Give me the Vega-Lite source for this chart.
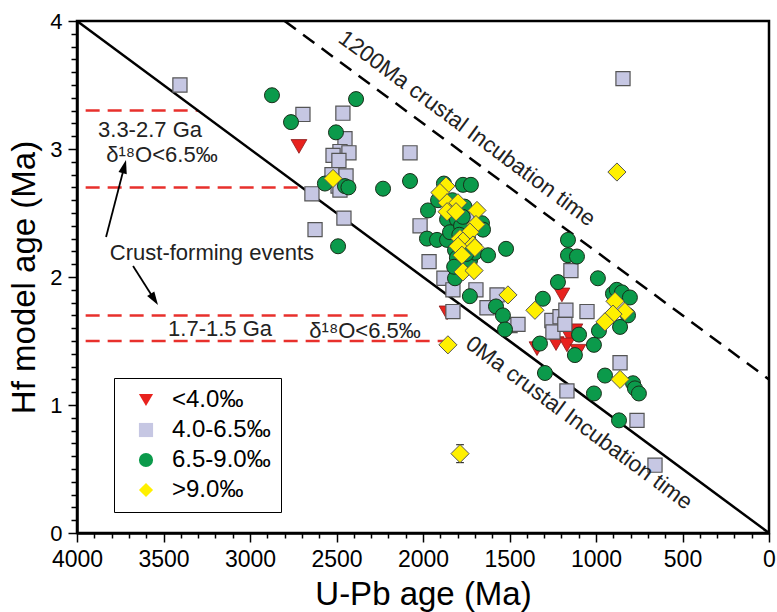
{
"$schema": "https://vega.github.io/schema/vega-lite/v6.json",
"width": 692, "height": 512,
"autosize": {"type": "none"},
"padding": {"left": 77, "top": 21, "right": 8, "bottom": 79},
"background": "white",
"config": {
 "font": "Liberation Sans",
 "view": {"stroke": "black", "strokeWidth": 2.5},
 "legend": {"symbolSize": 200},
 "axis": {"grid": false, "domainColor": "black", "domainWidth": 2.5, "tickColor": "black", "tickWidth": 1.5, "labelColor": "black", "titleColor": "black", "titleFontWeight": "normal", "labelFont": "Liberation Sans", "titleFont": "Liberation Sans", "labelOverlap": false, "labelFlush": false}
},
"datasets": {
 "pts": [
  {"x":2717,"y":3.02,"g":"<4.0‰"},{"x":1861,"y":1.72,"g":"<4.0‰"},{"x":1197,"y":1.86,"g":"<4.0‰"},{"x":1122,"y":1.58,"g":"<4.0‰"},{"x":1150,"y":1.53,"g":"<4.0‰"},{"x":1231,"y":1.48,"g":"<4.0‰"},{"x":1168,"y":1.47,"g":"<4.0‰"},{"x":1104,"y":1.42,"g":"<4.0‰"},{"x":1341,"y":1.44,"g":"<4.0‰"},
  {"x":3405,"y":3.50,"g":"4.0-6.5‰"},{"x":2694,"y":3.27,"g":"4.0-6.5‰"},{"x":2463,"y":3.28,"g":"4.0-6.5‰"},{"x":2451,"y":3.08,"g":"4.0-6.5‰"},{"x":2480,"y":2.98,"g":"4.0-6.5‰"},{"x":2520,"y":2.95,"g":"4.0-6.5‰"},{"x":2428,"y":2.97,"g":"4.0-6.5‰"},{"x":2486,"y":2.91,"g":"4.0-6.5‰"},{"x":2526,"y":2.80,"g":"4.0-6.5‰"},{"x":2445,"y":2.79,"g":"4.0-6.5‰"},{"x":2491,"y":2.71,"g":"4.0-6.5‰"},{"x":2480,"y":2.68,"g":"4.0-6.5‰"},{"x":2642,"y":2.65,"g":"4.0-6.5‰"},{"x":2457,"y":2.46,"g":"4.0-6.5‰"},{"x":2624,"y":2.37,"g":"4.0-6.5‰"},{"x":2075,"y":2.97,"g":"4.0-6.5‰"},{"x":844,"y":3.55,"g":"4.0-6.5‰"},{"x":2017,"y":2.40,"g":"4.0-6.5‰"},{"x":1965,"y":2.12,"g":"4.0-6.5‰"},{"x":1879,"y":1.99,"g":"4.0-6.5‰"},{"x":1827,"y":1.90,"g":"4.0-6.5‰"},{"x":1694,"y":1.90,"g":"4.0-6.5‰"},{"x":1746,"y":2.48,"g":"4.0-6.5‰"},{"x":1572,"y":1.86,"g":"4.0-6.5‰"},{"x":1630,"y":1.76,"g":"4.0-6.5‰"},{"x":1827,"y":1.73,"g":"4.0-6.5‰"},{"x":1497,"y":1.62,"g":"4.0-6.5‰"},{"x":1451,"y":1.63,"g":"4.0-6.5‰"},{"x":1255,"y":1.66,"g":"4.0-6.5‰"},{"x":1208,"y":1.69,"g":"4.0-6.5‰"},{"x":1174,"y":1.74,"g":"4.0-6.5‰"},{"x":1249,"y":1.57,"g":"4.0-6.5‰"},{"x":1180,"y":1.63,"g":"4.0-6.5‰"},{"x":1052,"y":1.73,"g":"4.0-6.5‰"},{"x":1145,"y":2.05,"g":"4.0-6.5‰"},{"x":861,"y":1.33,"g":"4.0-6.5‰"},{"x":1168,"y":1.11,"g":"4.0-6.5‰"},{"x":763,"y":0.88,"g":"4.0-6.5‰"},{"x":659,"y":0.53,"g":"4.0-6.5‰"},
  {"x":2873,"y":3.42,"g":"6.5-9.0‰"},{"x":2763,"y":3.21,"g":"6.5-9.0‰"},{"x":2387,"y":3.39,"g":"6.5-9.0‰"},{"x":2503,"y":3.13,"g":"6.5-9.0‰"},{"x":2567,"y":2.73,"g":"6.5-9.0‰"},{"x":2451,"y":2.71,"g":"6.5-9.0‰"},{"x":2431,"y":2.70,"g":"6.5-9.0‰"},{"x":2231,"y":2.69,"g":"6.5-9.0‰"},{"x":2491,"y":2.24,"g":"6.5-9.0‰"},{"x":2075,"y":2.75,"g":"6.5-9.0‰"},{"x":1879,"y":2.73,"g":"6.5-9.0‰"},{"x":1769,"y":2.72,"g":"6.5-9.0‰"},{"x":1723,"y":2.72,"g":"6.5-9.0‰"},{"x":1971,"y":2.52,"g":"6.5-9.0‰"},{"x":1913,"y":2.60,"g":"6.5-9.0‰"},{"x":1861,"y":2.45,"g":"6.5-9.0‰"},{"x":1804,"y":2.45,"g":"6.5-9.0‰"},{"x":1659,"y":2.42,"g":"6.5-9.0‰"},{"x":1653,"y":2.37,"g":"6.5-9.0‰"},{"x":1977,"y":2.30,"g":"6.5-9.0‰"},{"x":1919,"y":2.29,"g":"6.5-9.0‰"},{"x":1861,"y":2.29,"g":"6.5-9.0‰"},{"x":1844,"y":2.35,"g":"6.5-9.0‰"},{"x":1815,"y":2.21,"g":"6.5-9.0‰"},{"x":1804,"y":2.15,"g":"6.5-9.0‰"},{"x":1786,"y":2.09,"g":"6.5-9.0‰"},{"x":1728,"y":2.13,"g":"6.5-9.0‰"},{"x":1700,"y":2.19,"g":"6.5-9.0‰"},{"x":1740,"y":2.24,"g":"6.5-9.0‰"},{"x":1624,"y":2.17,"g":"6.5-9.0‰"},{"x":1520,"y":2.22,"g":"6.5-9.0‰"},{"x":1798,"y":2.04,"g":"6.5-9.0‰"},{"x":1815,"y":1.99,"g":"6.5-9.0‰"},{"x":1729,"y":1.85,"g":"6.5-9.0‰"},{"x":1578,"y":1.77,"g":"6.5-9.0‰"},{"x":1538,"y":1.70,"g":"6.5-9.0‰"},{"x":1526,"y":1.59,"g":"6.5-9.0‰"},{"x":1780,"y":2.40,"g":"6.5-9.0‰"},{"x":1760,"y":2.55,"g":"6.5-9.0‰"},{"x":1830,"y":2.60,"g":"6.5-9.0‰"},{"x":1790,"y":2.33,"g":"6.5-9.0‰"},{"x":1750,"y":2.18,"g":"6.5-9.0‰"},{"x":1820,"y":2.08,"g":"6.5-9.0‰"},{"x":1770,"y":2.47,"g":"6.5-9.0‰"},{"x":1740,"y":2.30,"g":"6.5-9.0‰"},{"x":1162,"y":2.29,"g":"6.5-9.0‰"},{"x":1162,"y":2.17,"g":"6.5-9.0‰"},{"x":1110,"y":2.16,"g":"6.5-9.0‰"},{"x":1220,"y":1.96,"g":"6.5-9.0‰"},{"x":989,"y":1.99,"g":"6.5-9.0‰"},{"x":1307,"y":1.83,"g":"6.5-9.0‰"},{"x":902,"y":1.87,"g":"6.5-9.0‰"},{"x":880,"y":1.90,"g":"6.5-9.0‰"},{"x":850,"y":1.88,"g":"6.5-9.0‰"},{"x":804,"y":1.84,"g":"6.5-9.0‰"},{"x":815,"y":1.70,"g":"6.5-9.0‰"},{"x":861,"y":1.61,"g":"6.5-9.0‰"},{"x":983,"y":1.58,"g":"6.5-9.0‰"},{"x":1012,"y":1.47,"g":"6.5-9.0‰"},{"x":1098,"y":1.55,"g":"6.5-9.0‰"},{"x":1324,"y":1.48,"g":"6.5-9.0‰"},{"x":1122,"y":1.39,"g":"6.5-9.0‰"},{"x":1295,"y":1.25,"g":"6.5-9.0‰"},{"x":948,"y":1.23,"g":"6.5-9.0‰"},{"x":1012,"y":1.09,"g":"6.5-9.0‰"},{"x":786,"y":1.17,"g":"6.5-9.0‰"},{"x":775,"y":1.13,"g":"6.5-9.0‰"},{"x":752,"y":1.09,"g":"6.5-9.0‰"},{"x":867,"y":0.88,"g":"6.5-9.0‰"},
  {"x":2520,"y":2.77,"g":">9.0‰"},{"x":879,"y":2.82,"g":">9.0‰"},{"x":1786,"y":0.62,"g":">9.0‰"},{"x":1856,"y":1.47,"g":">9.0‰"},{"x":1353,"y":1.74,"g":">9.0‰"},{"x":861,"y":1.20,"g":">9.0‰"},{"x":890,"y":1.81,"g":">9.0‰"},{"x":833,"y":1.73,"g":">9.0‰"},{"x":902,"y":1.71,"g":">9.0‰"},{"x":948,"y":1.65,"g":">9.0‰"},{"x":1509,"y":1.86,"g":">9.0‰"},{"x":1867,"y":2.71,"g":">9.0‰"},{"x":1902,"y":2.66,"g":">9.0‰"},{"x":1861,"y":2.58,"g":">9.0‰"},{"x":1798,"y":2.58,"g":">9.0‰"},{"x":1861,"y":2.51,"g":">9.0‰"},{"x":1809,"y":2.51,"g":">9.0‰"},{"x":1688,"y":2.52,"g":">9.0‰"},{"x":1694,"y":2.41,"g":">9.0‰"},{"x":1728,"y":2.35,"g":">9.0‰"},{"x":1786,"y":2.30,"g":">9.0‰"},{"x":1769,"y":2.28,"g":">9.0‰"},{"x":1711,"y":2.25,"g":">9.0‰"},{"x":1798,"y":2.24,"g":">9.0‰"},{"x":1775,"y":2.17,"g":">9.0‰"},{"x":1700,"y":2.23,"g":">9.0‰"},{"x":1769,"y":2.04,"g":">9.0‰"},{"x":1705,"y":2.05,"g":">9.0‰"}
 ],
 "redlines": [{"x":3950,"x2":3300,"y":3.3},{"x":3950,"x2":2700,"y":2.7},{"x":3950,"x2":2080,"y":1.7},{"x":3950,"x2":1880,"y":1.5}],
 "zero": [{"x":4000,"y":4,"x2":0,"y2":0}],
 "incub": [{"x":2800,"y":4,"x2":0,"y2":1.2}],
 "err": [{"x":1786,"lo":0.55,"hi":0.69}],
 "labels": [{"x":3578,"y":3.15,"label":"3.3-2.7 Ga"},{"x":3509,"y":2.95,"label":"δ¹⁸O<6.5‰"},{"x":3220,"y":2.19,"label":"Crust-forming events"},{"x":3173,"y":1.59,"label":"1.7-1.5 Ga"},{"x":2335,"y":1.58,"label":"δ¹⁸O<6.5‰"}],
 "rot": [{"x":1746,"y":3.16,"label":"1200Ma crustal Incubation time"},{"x":1098,"y":0.86,"label":"0Ma crustal Incubation time"}],
 "arrows": [{"x":3832,"y":2.3125,"x2":3727,"y2":2.86},{"x":3676,"y":2.086,"x2":3554,"y2":1.827}],
 "head1": [{"x":3727,"y":2.86}],
 "head2": [{"x":3554,"y":1.827}]
},
"encoding": {
 "x": {"field": "x", "type": "quantitative",
  "scale": {"domain": [0, 4000], "reverse": true, "nice": false, "zero": false},
  "axis": {"title": "U-Pb age (Ma)", "format": "d",
   "values": [0,100,200,300,400,500,600,700,800,900,1000,1100,1200,1300,1400,1500,1600,1700,1800,1900,2000,2100,2200,2300,2400,2500,2600,2700,2800,2900,3000,3100,3200,3300,3400,3500,3600,3700,3800,3900,4000],
   "labelExpr": "datum.value % 500 === 0 ? datum.label : ''",
   "tickSize": {"condition": {"test": "datum.value % 500 === 0", "value": 9}, "value": 5},
   "labelFontSize": 23, "titleFontSize": 33, "labelPadding": 6, "titlePadding": 7}},
 "y": {"field": "y", "type": "quantitative",
  "scale": {"domain": [0, 4], "nice": false},
  "axis": {"title": "Hf model age (Ma)",
   "values": [0,0.1,0.2,0.3,0.4,0.5,0.6,0.7,0.8,0.9,1,1.1,1.2,1.3,1.4,1.5,1.6,1.7,1.8,1.9,2,2.1,2.2,2.3,2.4,2.5,2.6,2.7,2.8,2.9,3,3.1,3.2,3.3,3.4,3.5,3.6,3.7,3.8,3.9,4],
   "labelExpr": "abs(datum.value - round(datum.value)) < 0.01 ? format(datum.value, 'd') : ''",
   "tickSize": {"condition": {"test": "abs(datum.value - round(datum.value)) < 0.01", "value": 9}, "value": 6},
   "labelFontSize": 22, "titleFontSize": 33, "labelPadding": 6, "titlePadding": 8}}
},
"layer": [
 {"data": {"name": "redlines"}, "mark": {"type": "rule", "color": "#e8302c", "strokeWidth": 2.5, "strokeDash": [14, 8]}, "encoding": {"x2": {"field": "x2"}}},
 {"data": {"name": "zero"}, "mark": {"type": "rule", "color": "black", "strokeWidth": 2.5}, "encoding": {"x2": {"field": "x2"}, "y2": {"field": "y2"}}},
 {"data": {"name": "incub"}, "mark": {"type": "rule", "color": "black", "strokeWidth": 2.5, "strokeDash": [14, 9]}, "encoding": {"x2": {"field": "x2"}, "y2": {"field": "y2"}}},
 {"data": {"name": "arrows"}, "mark": {"type": "rule", "color": "black", "strokeWidth": 1.8}, "encoding": {"x2": {"field": "x2"}, "y2": {"field": "y2"}}},
 {"data": {"name": "head1"}, "mark": {"type": "point", "shape": "M0,-1L0.6,0.9L-0.6,0.9Z", "filled": true, "color": "black", "size": 200, "angle": 14.6, "opacity": 1}, "encoding": {}},
 {"data": {"name": "head2"}, "mark": {"type": "point", "shape": "M0,-1L0.6,0.9L-0.6,0.9Z", "filled": true, "color": "black", "size": 200, "angle": 147.3, "opacity": 1}, "encoding": {}},
 {"data": {"name": "err"}, "mark": {"type": "rule", "color": "#333", "strokeWidth": 1.2}, "encoding": {"y": {"field": "lo", "type": "quantitative"}, "y2": {"field": "hi"}}},
 {"data": {"name": "err"}, "mark": {"type": "point", "shape": "stroke", "color": "#333", "strokeWidth": 1.2, "size": 60, "opacity": 1}, "encoding": {"y": {"field": "lo", "type": "quantitative"}}},
 {"data": {"name": "err"}, "mark": {"type": "point", "shape": "stroke", "color": "#333", "strokeWidth": 1.2, "size": 60, "opacity": 1}, "encoding": {"y": {"field": "hi", "type": "quantitative"}}},
 {"data": {"name": "pts"},
  "encoding": {
   "shape": {"field": "g", "type": "nominal", "scale": {"domain": ["<4.0‰", "4.0-6.5‰", "6.5-9.0‰", ">9.0‰"], "range": ["triangle-down", "square", "circle", "diamond"]},
     "legend": {"title": null, "orient": "none", "legendX": 37, "legendY": 357, "padding": 10, "symbolOffset": 10, "labelOffset": 14, "rowPadding": 6, "labelFontSize": 24, "labelFont": "Liberation Sans", "labelColor": "black", "symbolSize": 200, "symbolStrokeColor": "#444", "symbolStrokeWidth": 1, "strokeColor": "black",
       "encode": {
        "legend": {"update": {"stroke": {"value": "black"}, "strokeWidth": {"value": 2.5}, "fill": {"value": "white"}}},
        "symbols": {"update": {"size": {"value": 200}, "stroke": {"value": "#444"}, "strokeWidth": {"value": 1},
          "fill": [{"test": "datum.value === '<4.0‰'", "value": "#e8221e"}, {"test": "datum.value === '4.0-6.5‰'", "value": "#c6c7e3"}, {"test": "datum.value === '6.5-9.0‰'", "value": "#8fca7d"}, {"value": "#fff000"}]}}
       }}},
   "fill": {"field": "g", "type": "nominal", "scale": {"domain": ["<4.0‰", "4.0-6.5‰", "6.5-9.0‰", ">9.0‰"], "range": ["#e8221e", "#c6c7e3", "#0b9a4b", "#fff000"]},
     "legend": {"title": null, "orient": "none", "legendX": 37, "legendY": 357, "padding": 10, "symbolOffset": 10, "labelOffset": 14, "rowPadding": 6, "labelFontSize": 24, "labelFont": "Liberation Sans", "labelColor": "black", "symbolSize": 200, "symbolStrokeColor": "#444", "symbolStrokeWidth": 1, "strokeColor": "black",
       "encode": {
        "legend": {"update": {"stroke": {"value": "black"}, "strokeWidth": {"value": 2.5}, "fill": {"value": "white"}}},
        "symbols": {"update": {"size": {"value": 200}, "stroke": {"value": "#444"}, "strokeWidth": {"value": 1},
          "fill": [{"test": "datum.value === '<4.0‰'", "value": "#e8221e"}, {"test": "datum.value === '4.0-6.5‰'", "value": "#c6c7e3"}, {"test": "datum.value === '6.5-9.0‰'", "value": "#8fca7d"}, {"value": "#fff000"}]}}
       }}}
  },
  "layer": [
   {"transform": [{"filter": "datum.g === '<4.0‰'"}], "mark": {"type": "point", "filled": true, "opacity": 1, "stroke": "#8a1a1a", "strokeWidth": 0.8, "size": 250}},
   {"transform": [{"filter": "datum.g === '4.0-6.5‰'"}], "mark": {"type": "point", "filled": true, "opacity": 1, "stroke": "#555", "strokeWidth": 1.2, "size": 200}},
   {"transform": [{"filter": "datum.g === '6.5-9.0‰'"}], "mark": {"type": "point", "filled": true, "opacity": 1, "stroke": "#1a2e1a", "strokeWidth": 1, "size": 225}},
   {"transform": [{"filter": "datum.g === '>9.0‰'"}], "mark": {"type": "point", "filled": true, "opacity": 1, "stroke": "#555", "strokeWidth": 1, "size": 330}}
  ]},
 {"data": {"name": "labels"}, "mark": {"type": "text", "fontSize": 22, "font": "Liberation Sans", "color": "#222", "align": "center", "baseline": "middle"}, "encoding": {"text": {"field": "label"}}},
 {"data": {"name": "rot"}, "mark": {"type": "text", "fontSize": 22.5, "font": "Liberation Sans", "color": "#222", "align": "center", "baseline": "middle", "angle": 36.5}, "encoding": {"text": {"field": "label"}}}
]
}
